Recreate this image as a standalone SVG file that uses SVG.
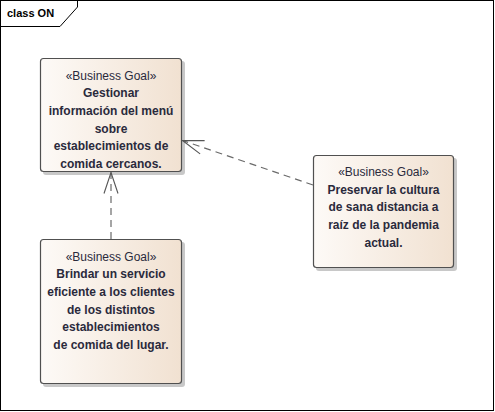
<svg xmlns="http://www.w3.org/2000/svg" width="495" height="412" viewBox="0 0 495 412">
<defs>
<linearGradient id="g" x1="0" y1="0" x2="1" y2="0">
<stop offset="0" stop-color="#fdfaf7"/>
<stop offset="1" stop-color="#f1e1d1"/>
</linearGradient>
<marker id="open" viewBox="0 0 24 16" refX="22" refY="8" markerWidth="24" markerHeight="16" markerUnits="userSpaceOnUse" orient="auto">
<path d="M1,1 L22,8 L1,15" fill="none" stroke="#555" stroke-width="1.1"/>
</marker>
</defs>
<style>
.frame{fill:#fff;stroke:#000;stroke-width:1}
.shadow{fill:#c8c8c8}
.box{fill:url(#g);stroke:#505050;stroke-width:1.2}
.st{font-family:"Liberation Sans",Arial,sans-serif;font-size:12px;fill:#2a2a3c;text-anchor:middle}
.nm{font-family:"Liberation Sans",Arial,sans-serif;font-size:12px;font-weight:bold;fill:#2a2a3c;text-anchor:middle}
.conn{fill:none;stroke:#6a6a6a;stroke-width:1.2;stroke-dasharray:7 5}
.title{font-family:"Liberation Sans",Arial,sans-serif;font-size:11px;font-weight:bold;fill:#000}
</style>
<rect class="frame" x="0.5" y="0.5" width="493" height="410"/>
<path d="M0.5,26.5 L60,26.5 L77.5,7 L77.5,0.5" fill="none" stroke="#000" stroke-width="1"/>
<text class="title" x="7" y="17">class ON</text>

<g id="goal1">
<rect class="shadow" x="43" y="61" width="142" height="114" rx="3"/>
<rect class="box" x="40.5" y="58.5" width="141" height="113" rx="3"/>
<text class="st" x="111" y="79.5">«Business Goal»</text>
<text class="nm" x="111" y="97.2">Gestionar</text>
<text class="nm" x="111" y="114.9">información del menú</text>
<text class="nm" x="111" y="132.6">sobre</text>
<text class="nm" x="111" y="150.3">establecimientos de</text>
<text class="nm" x="111" y="168">comida cercanos.</text>
</g>

<g id="goal2">
<rect class="shadow" x="316" y="158" width="141" height="113" rx="3"/>
<rect class="box" x="313.5" y="155.5" width="140" height="112" rx="3"/>
<text class="st" x="383.5" y="176">«Business Goal»</text>
<text class="nm" x="383.5" y="193.7">Preservar la cultura</text>
<text class="nm" x="383.5" y="211.4">de sana distancia a</text>
<text class="nm" x="383.5" y="229.1">raíz de la pandemia</text>
<text class="nm" x="383.5" y="246.8">actual.</text>
</g>

<g id="goal3">
<rect class="shadow" x="43" y="242" width="142" height="145" rx="3"/>
<rect class="box" x="40.5" y="239.5" width="141" height="144" rx="3"/>
<text class="st" x="111" y="260.5">«Business Goal»</text>
<text class="nm" x="111" y="278.2">Brindar un servicio</text>
<text class="nm" x="111" y="295.9">eficiente a los clientes</text>
<text class="nm" x="111" y="313.6">de los distintos</text>
<text class="nm" x="111" y="331.3">establecimientos</text>
<text class="nm" x="111" y="349">de comida del lugar.</text>
</g>

<g id="connectors">
<line class="conn" x1="111" y1="239" x2="111" y2="172.5" marker-end="url(#open)"/>
<line class="conn" x1="313" y1="185" x2="182.5" y2="140.5" marker-end="url(#open)"/>
</g>
</svg>
